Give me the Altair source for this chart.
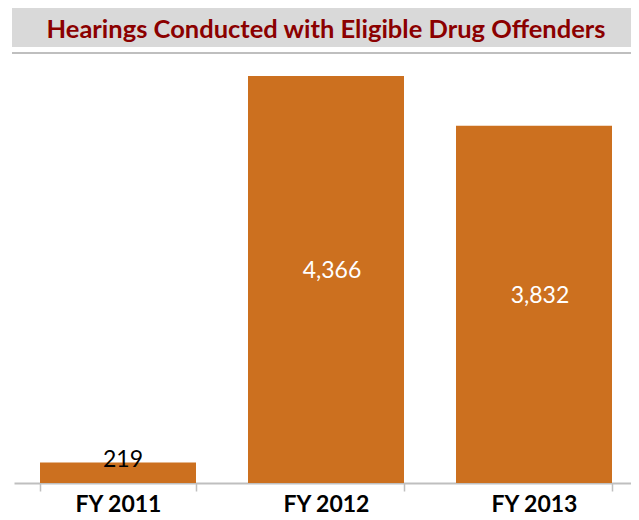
import altair as alt
import pandas as pd

years = ["FY 2011", "FY 2012", "FY 2013"]
hearings = [219, 4366, 3832]
title_text = "Hearings Conducted with Eligible Drug Offenders"

df = pd.DataFrame({"year": years, "hearings": hearings})
FONT = "Lato"
BAR = "#CC701F"
GRID = "#BFBFBF"

x_enc = alt.X(
    "year:N", sort=years, title=None,
    scale=alt.Scale(paddingInner=0.25, paddingOuter=0.125, range=[0, 624]),
    axis=alt.Axis(labelAngle=0, labelFont=FONT, labelFontWeight="bold",
                  labelFontSize=23, labelColor="black", labelPadding=2,
                  domainColor=GRID, domainWidth=2, tickColor=GRID,
                  tickWidth=1.5, tickSize=8, tickBand="extent"),
)
y_scale = alt.Scale(domain=[0, 5095])

base = alt.Chart(df)
bars = base.mark_bar(color=BAR).encode(
    x=x_enc, y=alt.Y("hearings:Q", scale=y_scale, axis=None)
)

inside = base.transform_filter("datum.hearings >= 1000").transform_calculate(
    mid="datum.hearings / 2"
).mark_text(font=FONT, fontSize=23, color="white", baseline="middle", dx=6, dy=-8).encode(
    x=alt.X("year:N", sort=years),
    y=alt.Y("mid:Q", scale=y_scale),
    text=alt.Text("hearings:Q", format=","),
)

outside = base.transform_filter("datum.hearings < 1000").mark_text(
    font=FONT, fontSize=23, color="black", baseline="middle", dx=5, dy=-3
).encode(
    x=alt.X("year:N", sort=years),
    y=alt.Y("hearings:Q", scale=y_scale),
    text=alt.Text("hearings:Q", format=","),
)

tdf = pd.DataFrame({"t": [title_text]})
tbox = alt.Chart(tdf).mark_rect(color="#D9D9D9").encode(
    x=alt.value(-2), x2=alt.value(630), y=alt.value(0), y2=alt.value(39)
)
ttext = alt.Chart(tdf).mark_text(
    font=FONT, fontSize=25.5, fontWeight="bold", color="#8B0000",
    align="center", baseline="alphabetic"
).encode(x=alt.value(312), y=alt.value(30), text="t:N")
tline = alt.Chart(tdf).mark_rule(color=GRID, strokeWidth=2).encode(
    x=alt.value(-2), x2=alt.value(630), y=alt.value(45)
)

chart = alt.layer(tbox, ttext, tline, bars, inside, outside).properties(
    width=617, height=475,
    autosize=alt.AutoSizeParams(type="none"),
    padding={"left": 6, "top": 0, "right": 0, "bottom": 35},
).configure_view(stroke=None)

chart.save("out.html", embed_options={"renderer": "svg", "actions": False})
